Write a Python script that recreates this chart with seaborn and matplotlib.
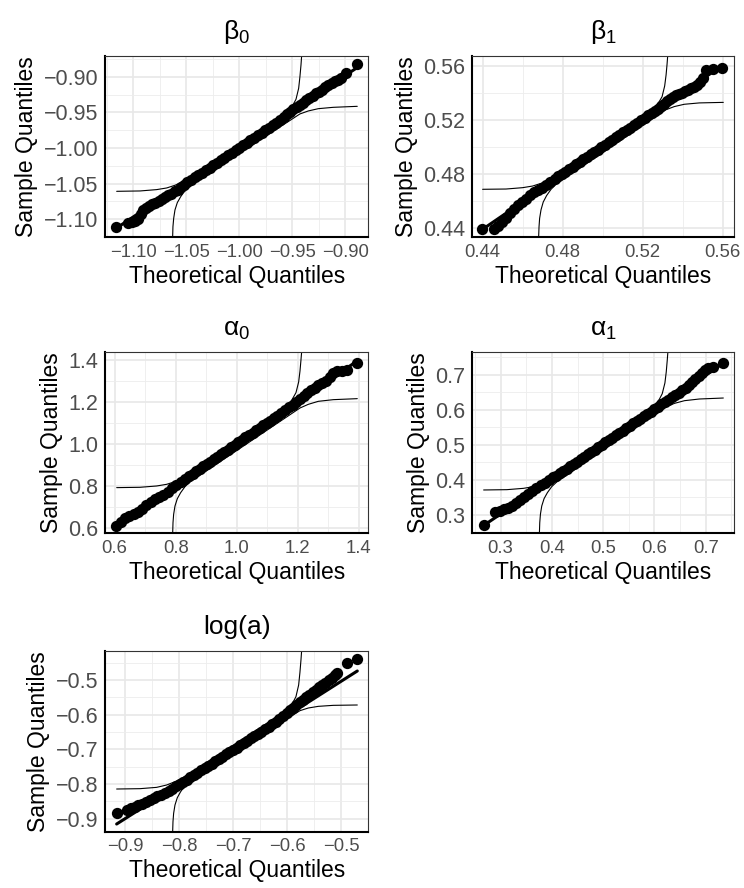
import matplotlib
matplotlib.use("Agg")
import matplotlib.pyplot as plt
import seaborn as sns
from matplotlib.ticker import FixedLocator, AutoMinorLocator, FuncFormatter

# ---------------- data ----------------
# beta_0
b0_theo = [-1.1161, -1.1045, -1.1010, -1.0980, -1.0955, -1.0930, -1.0910, -1.0880, -1.0850, -1.0820,
           -1.0790, -1.0760, -1.0730, -1.0700, -1.0670, -1.0640, -1.0610, -1.0580, -1.0550, -1.0520,
           -1.0490,
           -1.0455, -1.0420, -1.0385, -1.0350, -1.0315, -1.0280, -1.0245, -1.0210, -1.0175, -1.0140,
           -1.0105, -1.0070, -1.0035, -1.0000, -0.9965, -0.9930, -0.9895, -0.9860, -0.9825, -0.9790,
           -0.9755, -0.9720, -0.9685, -0.9650, -0.9615, -0.9580,
           -0.955, -0.952, -0.949, -0.946, -0.943, -0.940, -0.937, -0.934, -0.931, -0.928, -0.925,
           -0.922, -0.919, -0.916, -0.913, -0.910, -0.907, -0.904, -0.8996, -0.8889]
b0_samp = [-1.1105, -1.1060, -1.1045, -1.1030, -1.1000, -1.0930, -1.0875, -1.0845, -1.0810, -1.0790,
           -1.0770, -1.0745, -1.0720, -1.0695, -1.0665, -1.0640, -1.0610, -1.0585, -1.0550, -1.0515,
           -1.0480,
           -1.0445, -1.0412, -1.0378, -1.0345, -1.0310, -1.0276, -1.0242, -1.0208, -1.0173, -1.0139,
           -1.0104, -1.0070, -1.0034, -1.0000, -0.9964, -0.9929, -0.9893, -0.9858, -0.9822, -0.9787,
           -0.9751, -0.9715, -0.9679, -0.9643, -0.9606, -0.9570,
           -0.9520, -0.9490, -0.9458, -0.9427, -0.9395, -0.9363, -0.9330, -0.9297, -0.9264, -0.9230,
           -0.9210, -0.9180, -0.9150, -0.9120, -0.9090, -0.9065, -0.9040, -0.9015, -0.8951, -0.8820]
b0_line_x = [-1.1161, -0.8889]
b0_line_y = [-1.1130, -0.8870]
b0_bandA_x = [-1.1155, -1.0935, -1.0778, -1.0684, -1.0606, -1.0543, -1.0480, -0.9570, -0.9507, -0.9466,
              -0.9441, -0.9429, -0.9419, -0.9413]
b0_bandA_y = [-1.0609, -1.0604, -1.0585, -1.0562, -1.0524, -1.0482, -1.0426, -0.9537, -0.9429, -0.9316,
              -0.9162, -0.8998, -0.8834, -0.8708]
b0_bandB_x = [-1.0628, -1.0625, -1.0618, -1.0606, -1.0584, -1.0552, -1.0512, -1.0465, -0.9429, -0.9350,
              -0.9256, -0.9115, -0.8889]
b0_bandB_y = [-1.1255, -1.1105, -1.0988, -1.0871, -1.0768, -1.0684, -1.0599, -1.0534, -0.9522, -0.9480,
              -0.9448, -0.9429, -0.9415]
b0_ticks = [-1.10, -1.05, -1.00, -0.95, -0.90]

# beta_1
b1_theo = [0.4397, 0.4458, 0.4475, 0.4495, 0.4515, 0.4535, 0.4555, 0.4575, 0.4595, 0.4615, 0.4635,
           0.4655, 0.4675, 0.4695, 0.4715, 0.4735,
           0.4760, 0.4778, 0.4796, 0.4814, 0.4832, 0.4850, 0.4868, 0.4886, 0.4904, 0.4922, 0.4940,
           0.4958, 0.4976, 0.4994, 0.5012, 0.5030, 0.5048, 0.5066, 0.5084, 0.5102, 0.5120, 0.5138,
           0.5156, 0.5174, 0.5192, 0.5210, 0.5228, 0.5246,
           0.5260, 0.5275, 0.5290, 0.5305, 0.5320, 0.5335, 0.5350, 0.5365, 0.5380, 0.5395, 0.5410,
           0.5425, 0.5440, 0.5455, 0.5470, 0.5485, 0.5500, 0.5517, 0.5550, 0.5597]
b1_samp = [0.4395, 0.4395, 0.4420, 0.4450, 0.4480, 0.4510, 0.4545, 0.4570, 0.4595, 0.4620, 0.4645,
           0.4665, 0.4685, 0.4700, 0.4720, 0.4740,
           0.4765, 0.4783, 0.4801, 0.4819, 0.4837, 0.4855, 0.4873, 0.4891, 0.4909, 0.4927, 0.4945,
           0.4963, 0.4981, 0.4999, 0.5017, 0.5035, 0.5053, 0.5071, 0.5089, 0.5107, 0.5125, 0.5143,
           0.5161, 0.5179, 0.5197, 0.5215, 0.5233, 0.5251,
           0.5265, 0.5282, 0.5300, 0.5318, 0.5336, 0.5354, 0.5368, 0.5380, 0.5390, 0.5400, 0.5410,
           0.5420, 0.5432, 0.5445, 0.5460, 0.5480, 0.5510, 0.5568, 0.5573, 0.5580]
b1_line_x = [0.4397, 0.5597]
b1_line_y = [0.4390, 0.5600]
b1_bandA_x = [0.4400, 0.4517, 0.4600, 0.4650, 0.4692, 0.4725, 0.4758, 0.5242, 0.5275, 0.5297, 0.5310,
              0.5317, 0.5322, 0.5325]
b1_bandA_y = [0.4688, 0.4690, 0.4700, 0.4712, 0.4732, 0.4754, 0.4781, 0.5253, 0.5315, 0.5371, 0.5450,
              0.5531, 0.5612, 0.5671]
b1_bandB_x = [0.4680, 0.4682, 0.4685, 0.4692, 0.4703, 0.4720, 0.4742, 0.4767, 0.5317, 0.5358, 0.5408,
              0.5483, 0.5603]
b1_bandB_y = [0.4334, 0.4412, 0.4474, 0.4537, 0.4594, 0.4642, 0.4688, 0.4725, 0.5275, 0.5298, 0.5315,
              0.5325, 0.5329]
b1_ticks = [0.44, 0.48, 0.52, 0.56]

# alpha_0
a0_theo = [0.6044, 0.6200, 0.6339, 0.6480, 0.6620, 0.6760, 0.6900, 0.7040, 0.7180, 0.7320, 0.7460,
           0.7600, 0.7740, 0.7880, 0.8020, 0.8160, 0.8300,
           0.8450, 0.8565, 0.8680, 0.8795, 0.8910, 0.9025, 0.9140, 0.9255, 0.9370, 0.9485, 0.9600,
           0.9715, 0.9830, 0.9945, 1.0060, 1.0175, 1.0290, 1.0405, 1.0520, 1.0635, 1.0750, 1.0865,
           1.0980, 1.1095, 1.1210, 1.1325, 1.1440,
           1.160, 1.172, 1.184, 1.196, 1.208, 1.220, 1.232, 1.244, 1.256, 1.268, 1.280, 1.292,
           1.305, 1.317, 1.330, 1.345, 1.3607, 1.3956]
a0_samp = [0.6095, 0.6300, 0.6470, 0.6580, 0.6660, 0.6760, 0.6920, 0.7080, 0.7230, 0.7360, 0.7470,
           0.7590, 0.7720, 0.7880, 0.8050, 0.8200, 0.8330,
           0.8470, 0.8585, 0.8700, 0.8815, 0.8930, 0.9045, 0.9160, 0.9275, 0.9390, 0.9505, 0.9620,
           0.9735, 0.9850, 0.9965, 1.0080, 1.0195, 1.0310, 1.0425, 1.0540, 1.0655, 1.0770, 1.0885,
           1.1000, 1.1115, 1.1230, 1.1345, 1.1460,
           1.160, 1.174, 1.188, 1.201, 1.215, 1.228, 1.241, 1.255, 1.268, 1.280, 1.290, 1.298,
           1.320, 1.3397, 1.346, 1.3465, 1.3500, 1.3841]
a0_line_x = [0.6044, 1.3956]
a0_line_y = [0.6010, 1.3960]
a0_bandA_x = [0.6066, 0.6831, 0.7377, 0.7705, 0.7978, 0.8197, 0.8415, 1.1585, 1.1803, 1.1945, 1.2033,
              1.2077, 1.2109, 1.2131]
a0_bandA_y = [0.7921, 0.7937, 0.8000, 0.8079, 0.8206, 0.8349, 0.8540, 1.1683, 1.2079, 1.2444, 1.2952,
              1.3476, 1.4000, 1.4381]
a0_bandB_x = [0.7902, 0.7913, 0.7934, 0.7978, 0.8055, 0.8164, 0.8306, 0.8470, 1.2077, 1.2350, 1.2678,
              1.3169, 1.3956]
a0_bandB_y = [0.5746, 0.6254, 0.6651, 0.7048, 0.7397, 0.7683, 0.7968, 0.8190, 1.1714, 1.1889, 1.2032,
              1.2111, 1.2159]
a0_ticks = [0.6, 0.8, 1.0, 1.2, 1.4]

# alpha_1
a1_theo = [0.2670, 0.2896, 0.2980, 0.3060, 0.3140, 0.3220, 0.3300, 0.3380, 0.3460, 0.3540, 0.3620,
           0.3700, 0.3780, 0.3860, 0.3940, 0.4020,
           0.4090, 0.4158, 0.4226, 0.4294, 0.4362, 0.4430, 0.4498, 0.4566, 0.4634, 0.4702, 0.4770,
           0.4838, 0.4906, 0.4974, 0.5042, 0.5110, 0.5178, 0.5246, 0.5314, 0.5382, 0.5450, 0.5518,
           0.5586, 0.5654, 0.5722, 0.5790, 0.5858, 0.5926,
           0.6000, 0.6068, 0.6136, 0.6204, 0.6272, 0.6340, 0.6408, 0.6476, 0.6544, 0.6612, 0.6680,
           0.6740, 0.6800, 0.6860, 0.6920, 0.6980, 0.7040, 0.7136, 0.7343]
a1_samp = [0.2705, 0.3086, 0.3110, 0.3150, 0.3195, 0.3250, 0.3340, 0.3430, 0.3510, 0.3580, 0.3670,
           0.3760, 0.3840, 0.3910, 0.3990, 0.4070,
           0.4110, 0.4178, 0.4246, 0.4314, 0.4382, 0.4450, 0.4518, 0.4586, 0.4654, 0.4722, 0.4790,
           0.4858, 0.4926, 0.4994, 0.5062, 0.5130, 0.5198, 0.5266, 0.5334, 0.5402, 0.5470, 0.5538,
           0.5606, 0.5674, 0.5742, 0.5810, 0.5878, 0.5946,
           0.6020, 0.6088, 0.6156, 0.6224, 0.6290, 0.6356, 0.6422, 0.6488, 0.6555, 0.6625, 0.6700,
           0.6780, 0.6870, 0.6960, 0.7050, 0.7130, 0.7195, 0.7229, 0.7343]
a1_line_x = [0.2670, 0.7343]
a1_line_y = [0.2690, 0.7330]
a1_bandA_x = [0.2670, 0.3123, 0.3447, 0.3641, 0.3803, 0.3932, 0.4061, 0.5939, 0.6068, 0.6152, 0.6204,
              0.6230, 0.6249, 0.6262]
a1_bandA_y = [0.3705, 0.3714, 0.3752, 0.3800, 0.3876, 0.3962, 0.4076, 0.5990, 0.6219, 0.6457, 0.6762,
              0.7076, 0.7400, 0.7648]
a1_bandB_x = [0.3757, 0.3764, 0.3777, 0.3803, 0.3848, 0.3913, 0.3997, 0.4094, 0.6230, 0.6392, 0.6586,
              0.6877, 0.7343]
a1_bandB_y = [0.2467, 0.2771, 0.3010, 0.3248, 0.3457, 0.3629, 0.3800, 0.3933, 0.6086, 0.6181, 0.6257,
              0.6305, 0.6333]
a1_ticks = [0.3, 0.4, 0.5, 0.6, 0.7]

# log(a)
la_theo = [-0.9164, -0.8978, -0.8900, -0.8830, -0.8760, -0.8690, -0.8620, -0.8550, -0.8480, -0.8410,
           -0.8340, -0.8270, -0.8200, -0.8130, -0.8060, -0.7990,
           -0.7930, -0.7864, -0.7798, -0.7732, -0.7666, -0.7600, -0.7534, -0.7468, -0.7402, -0.7336,
           -0.7270, -0.7204, -0.7138, -0.7072, -0.7006, -0.6940, -0.6874, -0.6808, -0.6742, -0.6676,
           -0.6610, -0.6544, -0.6478, -0.6412, -0.6346, -0.6280, -0.6214, -0.6148, -0.6082,
           -0.6010, -0.5950, -0.5890, -0.5830, -0.5770, -0.5710, -0.5650, -0.5590, -0.5530, -0.5470,
           -0.5410, -0.5350, -0.5290, -0.5230, -0.5170, -0.5120, -0.5071, -0.4898, -0.4700]
la_samp = [-0.8831, -0.8754, -0.8710, -0.8660, -0.8620, -0.8570, -0.8520, -0.8460, -0.8410, -0.8360,
           -0.8310, -0.8260, -0.8200, -0.8140, -0.8070, -0.8010,
           -0.7940, -0.7874, -0.7808, -0.7742, -0.7676, -0.7610, -0.7544, -0.7478, -0.7412, -0.7346,
           -0.7280, -0.7214, -0.7148, -0.7082, -0.7016, -0.6950, -0.6884, -0.6818, -0.6752, -0.6686,
           -0.6620, -0.6554, -0.6488, -0.6422, -0.6350, -0.6278, -0.6205, -0.6130, -0.6050,
           -0.5954, -0.5875, -0.5795, -0.5716, -0.5636, -0.5567, -0.5497, -0.5418, -0.5348, -0.5279,
           -0.5210, -0.5140, -0.5071, -0.5001, -0.4932, -0.4852, -0.4780, -0.4513, -0.4388]
la_line_x = [-0.9164, -0.4700]
la_line_y = [-0.9159, -0.4735]
la_bandA_x = [-0.9164, -0.8731, -0.8422, -0.8236, -0.8082, -0.7958, -0.7835, -0.6042, -0.5918, -0.5838,
              -0.5788, -0.5764, -0.5745, -0.5733]
la_bandA_y = [-0.8147, -0.8137, -0.8099, -0.8031, -0.7935, -0.7839, -0.7723, -0.5911, -0.5718, -0.5477,
              -0.5140, -0.4773, -0.4417, -0.4157]
la_bandB_x = [-0.8125, -0.8119, -0.8107, -0.8082, -0.8039, -0.7977, -0.7896, -0.7804, -0.5764, -0.5609,
              -0.5423, -0.5145, -0.4700]
la_bandB_y = [-0.9381, -0.9092, -0.8851, -0.8610, -0.8398, -0.8224, -0.8051, -0.7916, -0.5882, -0.5805,
              -0.5757, -0.5728, -0.5718]
la_ticks = [-0.9, -0.8, -0.7, -0.6, -0.5]

titles = ["β$_{\\mathregular{0}}$", "β$_{\\mathregular{1}}$", "α$_{\\mathregular{0}}$",
          "α$_{\\mathregular{1}}$", "log(a)"]
xlabel = "Theoretical Quantiles"
ylabel = "Sample Quantiles"

# ---------------- styling / layout ----------------
sns.set_theme(style="white")
plt.rcParams["font.family"] = ["Liberation Sans", "DejaVu Sans"]
plt.rcParams["mathtext.fontset"] = "custom"
plt.rcParams["mathtext.rm"] = "Liberation Sans"

W, H = 744, 888
fig = plt.figure(figsize=(W / 100, H / 100), dpi=100)
fig.patch.set_facecolor("white")

# panel boxes in pixels: left, top, right, bottom
boxes = [(105, 56, 368.3, 237.3), (472, 56, 734.3, 237.3),
         (105, 352, 368.3, 533.3), (472, 352, 734.3, 533.3),
         (105, 651, 368.3, 831.7)]
limits = [((-1.1265, -0.8785), (-1.1255, -0.8708)),
          ((0.4347, 0.5658), (0.4334, 0.5671)),
          ((0.5683, 1.4317), (0.5746, 1.4381)),
          ((0.2443, 0.7557), (0.2467, 0.7648)),
          ((-0.9380, -0.4496), (-0.9381, -0.4157))]
fmts = ["%.2f", "%.2f", "%.1f", "%.1f", "%.1f"]


def make_fmt(f):
    return FuncFormatter(lambda v, p: (f % v).replace("-", "\u2212"))


panels = [
    (b0_theo, b0_samp, b0_line_x, b0_line_y, b0_bandA_x, b0_bandA_y, b0_bandB_x, b0_bandB_y, b0_ticks),
    (b1_theo, b1_samp, b1_line_x, b1_line_y, b1_bandA_x, b1_bandA_y, b1_bandB_x, b1_bandB_y, b1_ticks),
    (a0_theo, a0_samp, a0_line_x, a0_line_y, a0_bandA_x, a0_bandA_y, a0_bandB_x, a0_bandB_y, a0_ticks),
    (a1_theo, a1_samp, a1_line_x, a1_line_y, a1_bandA_x, a1_bandA_y, a1_bandB_x, a1_bandB_y, a1_ticks),
    (la_theo, la_samp, la_line_x, la_line_y, la_bandA_x, la_bandA_y, la_bandB_x, la_bandB_y, la_ticks),
]

for i, (theo, samp, lx, ly, ax_, ay_, bx_, by_, ticks) in enumerate(panels):
    l, t, r, b = boxes[i]
    ax = fig.add_axes([l / W, 1 - b / H, (r - l) / W, (b - t) / H])
    ax.set_facecolor("white")

    sns.lineplot(x=ax_, y=ay_, ax=ax, color="black", linewidth=0.8, sort=False,
                 estimator=None, zorder=2)
    sns.lineplot(x=bx_, y=by_, ax=ax, color="black", linewidth=0.8, sort=False,
                 estimator=None, zorder=2)
    sns.scatterplot(x=theo, y=samp, ax=ax, s=66, color="black", linewidth=0, zorder=3)
    sns.lineplot(x=lx, y=ly, ax=ax, color="black", linewidth=2.2, sort=False,
                 estimator=None, zorder=4)

    (x0, x1), (y0, y1) = limits[i]
    ax.set_xlim(x0, x1)
    ax.set_ylim(y0, y1)
    ax.xaxis.set_major_locator(FixedLocator(ticks))
    ax.yaxis.set_major_locator(FixedLocator(ticks))
    ax.xaxis.set_major_formatter(make_fmt(fmts[i]))
    ax.yaxis.set_major_formatter(make_fmt(fmts[i]))
    ax.xaxis.set_minor_locator(AutoMinorLocator(2))
    ax.yaxis.set_minor_locator(AutoMinorLocator(2))

    ax.set_axisbelow(True)
    ax.grid(which="major", color="#E8E8E8", linewidth=1.2)
    ax.grid(which="minor", color="#EDEDED", linewidth=0.6)

    for side in ["left", "bottom"]:
        ax.spines[side].set_color("black")
        ax.spines[side].set_linewidth(1.5)
    for side in ["top", "right"]:
        ax.spines[side].set_color("#333333")
        ax.spines[side].set_linewidth(0.8)

    ax.tick_params(which="major", length=2.2, width=0.8, color="#333333",
                   labelcolor="#4D4D4D", pad=2.5)
    ax.tick_params(axis="x", which="major", labelsize=13.3)
    ax.tick_params(axis="y", which="major", labelsize=15.5)
    ax.tick_params(which="minor", length=0)

    ax.set_title(titles[i], fontsize=19, color="black", pad=12)
    ax.set_xlabel(xlabel, fontsize=16.5, color="black", labelpad=3)
    ax.set_ylabel(ylabel, fontsize=16.5, color="black", labelpad=4)

fig.savefig("out.png", dpi=100, facecolor="white")
